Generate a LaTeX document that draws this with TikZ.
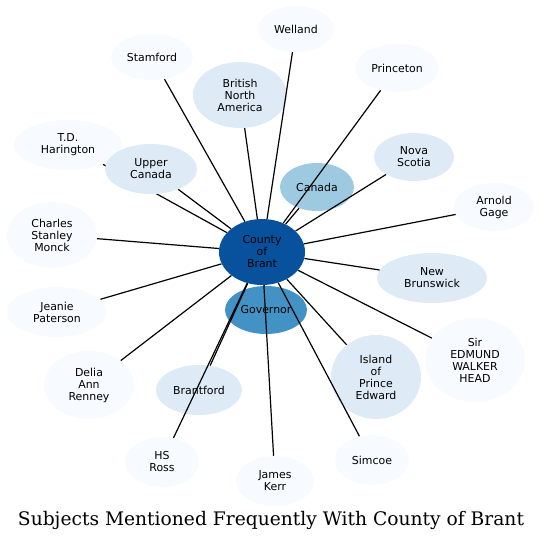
\documentclass[tikz,border=0pt]{standalone}
\usepackage{fontspec}
\setmainfont{DejaVu Sans}
\newfontfamily\titlefont{DejaVu Serif}
\usetikzlibrary{shapes.geometric}

\definecolor{brant}{HTML}{08519C}
\definecolor{gov}{HTML}{4292C6}
\definecolor{mid}{HTML}{9ECAE1}
\definecolor{light}{HTML}{DEEBF7}
\definecolor{pale}{HTML}{F7FBFF}

\tikzset{
  bub/.style={ellipse, inner sep=0pt, align=center,
    font=\fontsize{8.2}{9}\selectfont},
  sz/.style 2 args={minimum width=#1*0.75pt, minimum height=#2*0.75pt},
  link/.style={line width=0.9pt},
}

\begin{document}
\begin{tikzpicture}[x=0.75pt,y=-0.75pt]
\useasboundingbox (0,0) rectangle (543,542);

\node[bub, sz={86}{66}, fill=brant] (Brant) at (262,252) {County\\of\\Brant};
\node[bub, sz={82}{48}, fill=gov] (Gov) at (266,310) {Governor};
\node[bub, sz={74}{48}, fill=mid] (Can) at (317,187) {Canada};

\node[bub, sz={94}{66}, fill=light] (BNA) at (240,95) {British\\North\\America};
\node[bub, sz={80}{48}, fill=light] (NS) at (414,157) {Nova\\Scotia};
\node[bub, sz={110}{50}, fill=light] (NB) at (432,278) {New\\Brunswick};
\node[bub, sz={90}{84}, fill=light] (PEI) at (376,377) {Island\\of\\Prince\\Edward};
\node[bub, sz={86}{50}, fill=light] (Bford) at (199,390) {Brantford};

\node[bub, sz={76}{46}, fill=pale] (Well) at (296,29) {Welland};
\node[bub, sz={82}{46}, fill=pale] (Stam) at (152,57) {Stamford};
\node[bub, sz={84}{48}, fill=pale] (Prin) at (397,68) {Princeton};
\node[bub, sz={108}{50}, fill=pale] (TDH) at (68,145) {T.D.\\Harington};
\node[bub, sz={80}{48}, fill=pale] (Gage) at (494,207) {Arnold\\Gage};
\node[bub, sz={90}{66}, fill=pale] (Monck) at (52,235) {Charles\\Stanley\\Monck};
\node[bub, sz={100}{50}, fill=pale] (Jean) at (57,312) {Jeanie\\Paterson};
\node[bub, sz={100}{84}, fill=pale] (Head) at (475,360) {Sir\\EDMUND\\WALKER\\HEAD};
\node[bub, sz={90}{68}, fill=pale] (Delia) at (89,385) {Delia\\Ann\\Renney};
\node[bub, sz={74}{50}, fill=pale] (Ross) at (162,462) {HS\\Ross};
\node[bub, sz={78}{50}, fill=pale] (Kerr) at (275,481) {James\\Kerr};
\node[bub, sz={74}{50}, fill=pale] (Sim) at (372,460) {Simcoe};

% this one runs under Upper Canada
\draw[link] (Brant) to (TDH);
\node[bub, sz={92}{50}, fill=light] (UC) at (151,169) {Upper\\Canada};

\draw[link] (Brant) to (Gov);
\draw[link] (Brant) to (Can);
\draw[link] (Brant) to (BNA);
\draw[link] (Brant) to (NS);
\draw[link] (Brant) to (NB);
\draw[link] (Brant) to (PEI);
\draw[link] (Brant) to (Bford);
\draw[link] (Brant) to (UC);
\draw[link] (Brant) to (Well);
\draw[link] (Brant) to (Stam);
\draw[link] (Brant) to (Prin);
\draw[link] (Brant) to (Gage);
\draw[link] (Brant) to (Monck);
\draw[link] (Brant) to (Jean);
\draw[link] (Brant) to (Head);
\draw[link] (Brant) to (Delia);
\draw[link] (Brant) to (Ross);
\draw[link] (Brant) to (Kerr);
\draw[link] (Brant) to (Sim);

\node[font=\titlefont\fontsize{14}{16}\selectfont] (title) at (271,520)
  {Subjects Mentioned Frequently With County of Brant};
\end{tikzpicture}
\end{document}
